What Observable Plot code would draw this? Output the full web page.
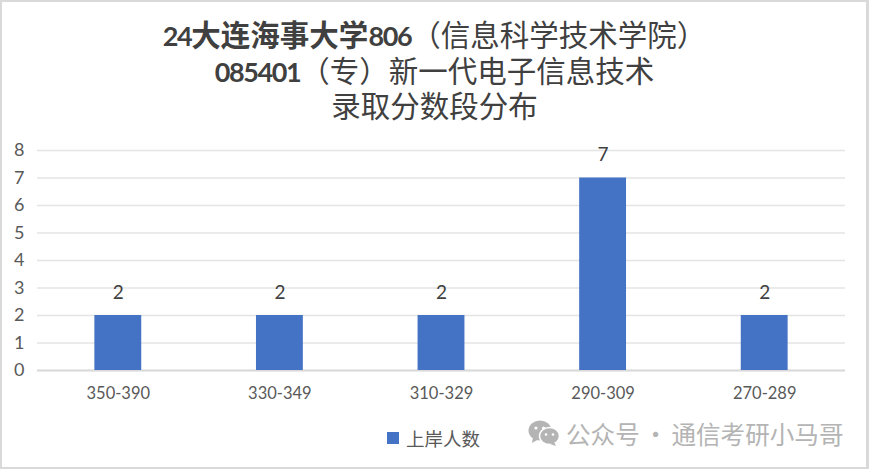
<!DOCTYPE html>
<html lang="zh">
<head>
<meta charset="utf-8">
<script src="https://cdn.jsdelivr.net/npm/d3@7"></script>
<script src="https://cdn.jsdelivr.net/npm/@observablehq/plot@0.6"></script>
<style>
  html, body { margin: 0; padding: 0; background: #fff; overflow: hidden; }
  #chart { position: relative; box-sizing: border-box; width: 869px; height: 469px; border-style: solid; border-color: #d9d9d9; border-width: 2px 3px 2px 2px; overflow: hidden; }
  #title { position: absolute; left: -2px; top: 16px; width: 869px; text-align: center; font-family: Lato, "Noto Sans CJK SC", sans-serif; font-size: 29.5px; line-height: 34.5px; color: #404040; }
  #title b { font-weight: 700; }
  #title .num { font-size: 27px; letter-spacing: -1.4px; }
  #plot { position: absolute; left: -2px; top: 121px; width: 869px; }
  #plot svg { display: block; max-width: none; }
  #legend { position: absolute; left: 385px; top: 426px; font-family: "Noto Sans CJK SC", sans-serif; font-size: 18.5px; line-height: 20px; color: #595959; display: flex; align-items: center; }
  #legend i { display: inline-block; width: 12px; height: 12px; background: #4472c4; margin-right: 7px; }
  #wm { position: absolute; left: 526px; top: 413px; font-family: "Noto Sans CJK SC", sans-serif; font-size: 24.6px; line-height: 36px; word-spacing: -2px; color: #b4b4b4; display: flex; align-items: center; white-space: nowrap; }
  #wm svg { margin-right: 6px; }
</style>
</head>
<body>
<div id="chart">
  <div id="title"></div>
  <div id="plot"></div>
  <div id="legend"><i></i><span></span></div>
  <div id="wm">
    <svg width="32" height="26" viewBox="0 0 32 26"><ellipse cx="12" cy="10.5" rx="11.5" ry="10" fill="#b4b4b4"/><path d="M5 17 L4 23 L11 19Z" fill="#b4b4b4"/><ellipse cx="21.5" cy="16" rx="10" ry="8.5" fill="#b4b4b4" stroke="#fff" stroke-width="1.5"/><path d="M26 22 L28 26 L22 24Z" fill="#b4b4b4"/><circle cx="8" cy="8" r="1.6" fill="#fff"/><circle cx="15.5" cy="8" r="1.6" fill="#fff"/><circle cx="18" cy="14.5" r="1.3" fill="#fff"/><circle cx="25" cy="14.5" r="1.3" fill="#fff"/></svg>
    <span></span>
  </div>
</div>
<script>
const categories = ["350-390", "330-349", "310-329", "290-309", "270-289"];
const counts = [2, 2, 2, 7, 2];
const yTicks = [0, 1, 2, 3, 4, 5, 6, 7, 8];
const seriesName = "上岸人数";
const titleLines = [
  [["24大连海事大学806", true], ["（信息科学技术学院）", false]],
  [["085401", true], ["（专）新一代电子信息技术", false]],
  [["录取分数段分布", false]]
];
const watermark = "公众号 · 通信考研小马哥";

const rows = categories.map((c, i) => ({category: c, count: counts[i]}));

const titleEl = document.getElementById("title");
titleLines.forEach(parts => {
  const line = document.createElement("div");
  parts.forEach(([text, bold]) => {
    text.split(/(\d+)/).filter(Boolean).forEach(piece => {
      const el = document.createElement(bold ? "b" : "span");
      if (/^\d+$/.test(piece)) el.className = "num";
      el.textContent = piece;
      line.appendChild(el);
    });
  });
  titleEl.appendChild(line);
});
document.querySelector("#legend span").textContent = seriesName;
document.querySelector("#wm span").textContent = watermark;

const chart = Plot.plot({
  width: 869,
  height: 282,
  marginTop: 27,
  marginBottom: 35,
  marginLeft: 37,
  marginRight: 24,
  style: {fontFamily: "Lato, sans-serif", background: "transparent"},
  x: {domain: categories, label: null, paddingInner: 0.71, paddingOuter: 0.355, align: 0.5, round: false},
  y: {domain: [0, 8], label: null},
  marks: [
    Plot.gridY(yTicks, {stroke: "#e4e4e4", strokeWidth: 1.5, strokeOpacity: 1}),
    Plot.ruleY([0], {stroke: "#d9d9d9", strokeWidth: 2}),
    Plot.barY(rows, {x: "category", y: "count", fill: "#4472c4"}),
    Plot.text(rows, {x: "category", y: "count", text: d => String(d.count), dy: -23, fill: "#404040", fontSize: 19}),
    Plot.axisX({tickSize: 0, tickPadding: 17, fontSize: 16.5, color: "#595959", label: null}),
    Plot.axisY(yTicks, {tickSize: 0, tickPadding: 13, fontSize: 18, color: "#595959", label: null})
  ]
});
document.getElementById("plot").appendChild(chart);
</script>
</body>
</html>
